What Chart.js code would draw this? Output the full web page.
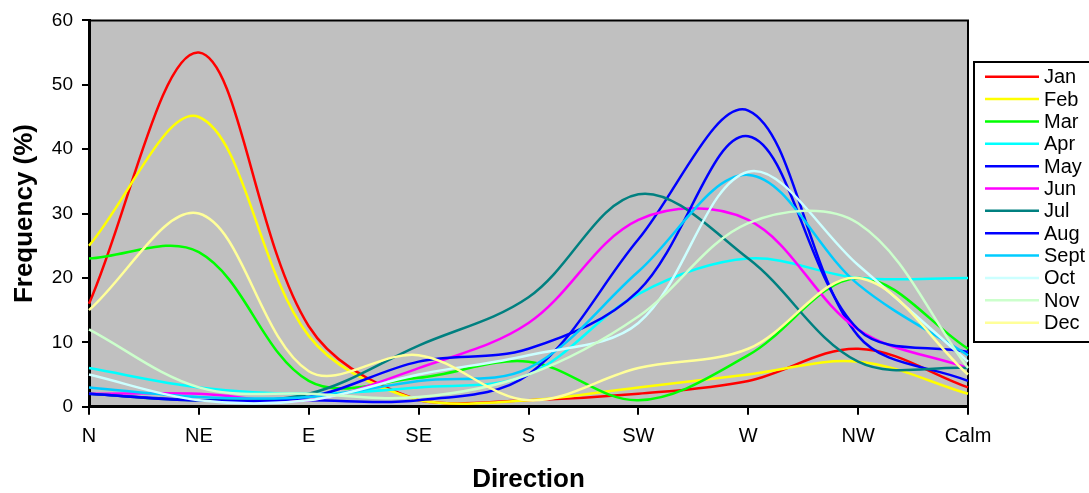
<!DOCTYPE html>
<html>
<head>
<meta charset="utf-8">
<style>
  html, body { margin: 0; padding: 0; background: #ffffff; }
  #windChart { display: block; }
</style>
<script src="https://cdn.jsdelivr.net/npm/chart.js@4"></script>
</head>
<body>
<canvas id="windChart" width="1089" height="493"></canvas>
<script>
// Categories (wind direction) and monthly series
const directions = ['N', 'NE', 'E', 'SE', 'S', 'SW', 'W', 'NW', 'Calm'];
const months = ['Jan', 'Feb', 'Mar', 'Apr', 'May', 'Jun', 'Jul', 'Aug', 'Sept', 'Oct', 'Nov', 'Dec'];

const jan  = [16, 55, 12.5, 1, 1, 2, 4, 9, 3];
const feb  = [25, 45, 11, 1, 1, 3, 5, 7, 2];
const mar  = [23, 24, 4, 4.5, 7, 1, 8, 20, 9];
const apr  = [6, 3, 2, 3, 5, 17.5, 23, 20, 20];
const may  = [2, 1, 1, 1, 5, 26, 46, 11, 4];
const jun  = [2, 2, 1, 6, 13, 29, 29, 12, 6];
const jul  = [2, 1, 2, 9.5, 17, 33, 23, 7, 6];
const aug  = [2, 1, 1.5, 7, 9, 18, 42, 12, 8.5];
const sept = [3, 1.5, 1.5, 4, 6, 21, 36, 19, 8];
const oct  = [5, 1, 1, 5, 8, 13, 36.5, 22, 7];
const nov  = [12, 3, 2, 1.5, 5, 14, 28.5, 28.5, 6];
const dec  = [15, 30, 5.5, 8, 1, 6, 9, 20, 5];

const yMin = 0;
const yMax = 60;
const yStep = 10;

const seriesValues = [jan, feb, mar, apr, may, jun, jul, aug, sept, oct, nov, dec];
const seriesColors = ['#FF0000', '#FFFF00', '#00FF00', '#00FFFF', '#0000FF', '#FF00FF',
                      '#008080', '#0000FF', '#00CCFF', '#CCFFFF', '#CCFFCC', '#FFFF99'];

const FONT = '"Liberation Sans", Arial, sans-serif';

// gray plot area + frame on top and right
const plotFrame = {
    id: 'plotFrame',
    beforeDraw(chart) {
        const { ctx, chartArea: a } = chart;
        ctx.save();
        ctx.fillStyle = '#C0C0C0';
        ctx.fillRect(a.left, a.top, a.right - a.left, a.bottom - a.top);
        ctx.strokeStyle = '#000000';
        ctx.lineWidth = 2;
        ctx.beginPath();
        ctx.moveTo(a.left, a.top);
        ctx.lineTo(a.right, a.top);
        ctx.lineTo(a.right, a.bottom);
        ctx.stroke();
        ctx.restore();
    }
};

// legend box at the right, drawn from the datasets
const sideLegend = {
    id: 'sideLegend',
    afterDraw(chart) {
        const ctx = chart.ctx;
        const boxX = 974, boxY = 62, boxW = 130, boxH = 280;
        const rowTop = 76.7, rowGap = 22.36;
        ctx.save();
        ctx.fillStyle = '#ffffff';
        ctx.fillRect(boxX, boxY, boxW, boxH);
        ctx.strokeStyle = '#000000';
        ctx.lineWidth = 2;
        ctx.strokeRect(boxX, boxY, boxW, boxH);
        ctx.font = '20px ' + FONT;
        ctx.textBaseline = 'middle';
        ctx.textAlign = 'left';
        chart.data.datasets.forEach((ds, i) => {
            const y = rowTop + i * rowGap;
            ctx.strokeStyle = ds.borderColor;
            ctx.lineWidth = 2.5;
            ctx.beginPath();
            ctx.moveTo(985, y);
            ctx.lineTo(1039, y);
            ctx.stroke();
            ctx.fillStyle = '#000000';
            ctx.fillText(ds.label, 1044, y + 1);
        });
        ctx.restore();
    }
};

function renderWindChart() {
    const ctx = document.getElementById('windChart').getContext('2d');

    const datasets = months.map((m, i) => ({
        label: m,
        data: seriesValues[i],
        borderColor: seriesColors[i],
        backgroundColor: seriesColors[i],
        borderWidth: 2.5,
        pointRadius: 0,
        fill: false,
        tension: 0.35,
        order: months.length - i
    }));

    new Chart(ctx, {
        type: 'line',
        data: { labels: directions, datasets: datasets },
        options: {
            responsive: false,
            animation: false,
            devicePixelRatio: 1,
            layout: { padding: { top: 16, right: 121, left: 0, bottom: 0 } },
            plugins: {
                legend: { display: false },
                tooltip: { enabled: false }
            },
            scales: {
                x: {
                    offset: false,
                    afterFit: s => { s.height = 86.3; },
                    grid: { display: true, drawOnChartArea: false, drawTicks: true, tickLength: 8, color: '#000000', lineWidth: 2 },
                    border: { display: true, color: '#000000', width: 3 },
                    ticks: { color: '#000000', font: { family: FONT, size: 20 }, padding: 10, maxRotation: 0, autoSkip: false },
                    title: { display: true, text: 'Direction', color: '#000000', font: { family: FONT, size: 26, weight: 'bold' }, padding: { top: 0, bottom: -2 } }
                },
                y: {
                    min: yMin,
                    max: yMax,
                    afterFit: s => { s.width = 89; },
                    grid: { display: true, drawOnChartArea: false, drawTicks: true, tickLength: 7, color: '#000000', lineWidth: 2 },
                    border: { display: true, color: '#000000', width: 3 },
                    ticks: { stepSize: yStep, color: '#000000', font: { family: FONT, size: 19 }, padding: 9 },
                    title: { display: true, text: 'Frequency (%)', color: '#000000', font: { family: FONT, size: 26, weight: 'bold' }, padding: { top: 9, bottom: 0 } }
                }
            }
        },
        plugins: [plotFrame, sideLegend]
    });
}

document.addEventListener('DOMContentLoaded', () => {
    renderWindChart();
});
</script>
</body>
</html>
